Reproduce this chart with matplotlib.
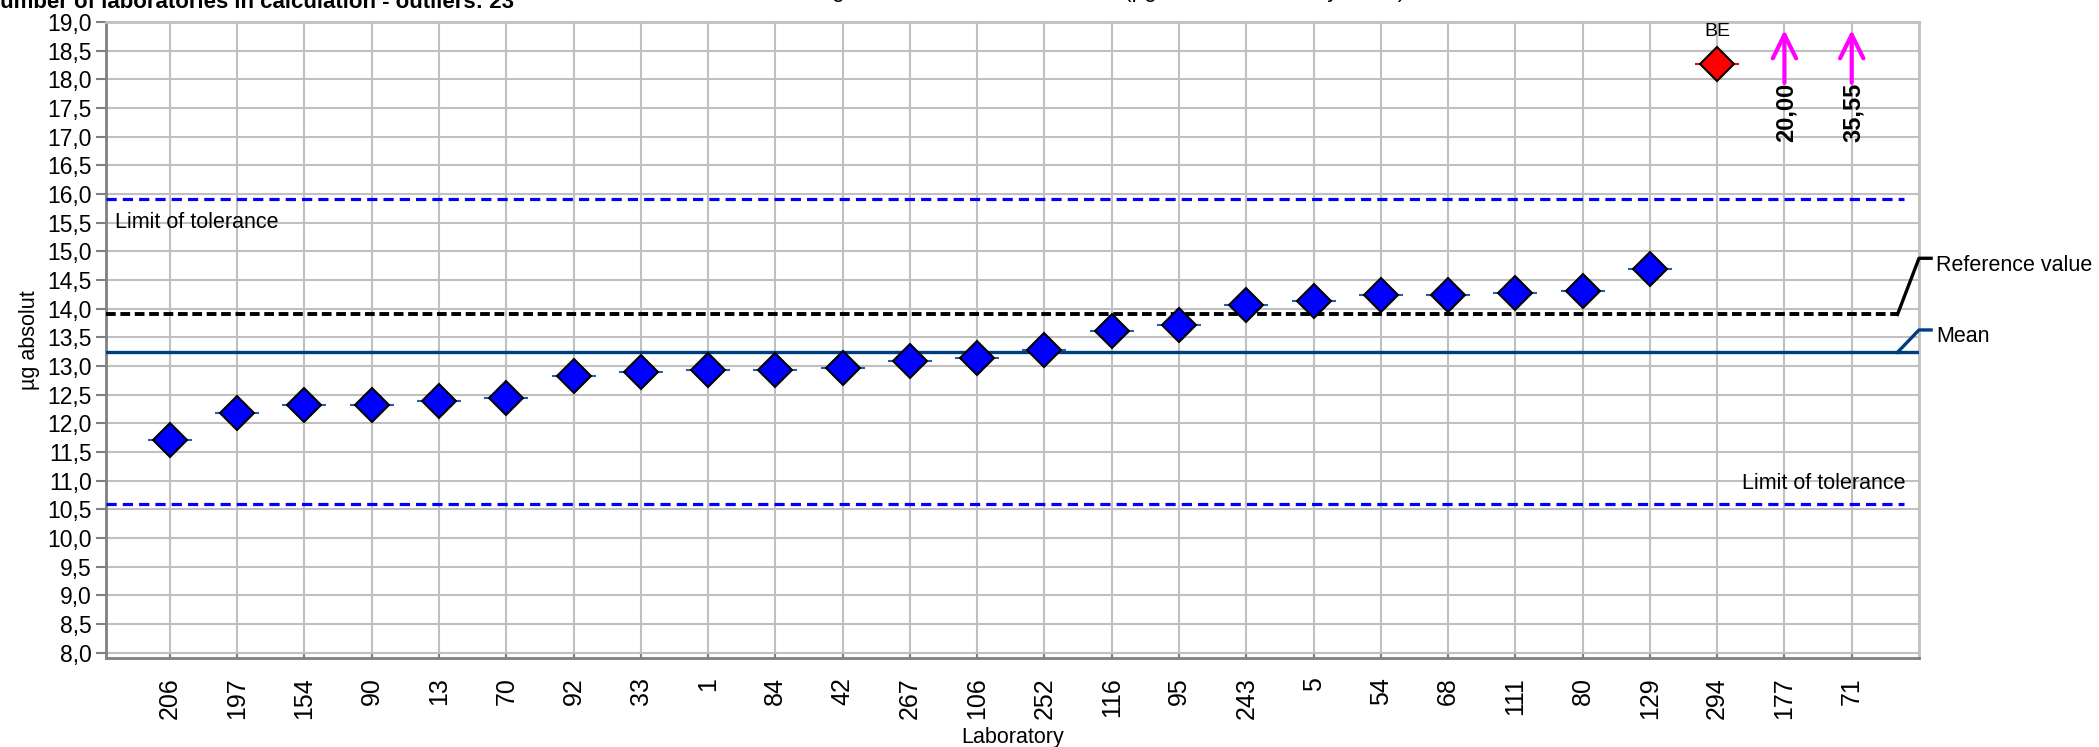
import matplotlib
matplotlib.use('Agg')
import matplotlib.pyplot as plt

plt.rcParams['font.family'] = ['Liberation Sans', 'DejaVu Sans']

# laboratories used in the calculation, sorted by result
labs = ['206', '197', '154', '90', '13', '70', '92', '33', '1', '84', '42', '267',
        '106', '252', '116', '95', '243', '5', '54', '68', '111', '80', '129']
values = [11.71, 12.19, 12.33, 12.33, 12.40, 12.44, 12.82, 12.89, 12.94, 12.94, 12.96, 13.09,
          13.14, 13.28, 13.62, 13.72, 14.07, 14.14, 14.24, 14.24, 14.28, 14.31, 14.69]

# outliers (not in calculation)
outlier_labs = ['294', '177', '71']
outlier_values = [18.27, 20.00, 35.55]
outlier_tags = ['BE', '', '']

ref_value = 13.90
mean_value = 13.24
tol_low = 10.59
tol_high = 15.91

ymin, ymax = 7.91, 19.0
W, H = 2099, 747

fig = plt.figure(figsize=(W / 100, H / 100), dpi=100)
ax = fig.add_axes([106 / W, 1 - 658 / H, 1813 / W, 636 / H])

all_labs = labs + outlier_labs
n = len(all_labs)
xs = list(range(n))
x_end = n - 0.22

# grid
ax.set_axisbelow(True)
ax.grid(True, color='#c0c0c0', linewidth=1.5)
ax.set_xlim(-0.95, n)
ax.set_ylim(ymin, ymax)
yt = [8.0 + 0.5 * i for i in range(23)]
ax.set_yticks(yt)
ax.set_yticklabels([('%.1f' % v).replace('.', ',') for v in yt], fontsize=16.5)
ax.set_xticks(xs)
ax.set_xticklabels(all_labs, rotation=90, fontsize=18)
ax.tick_params(axis='y', direction='out', length=7, width=1.5, color='#808080', pad=3)
ax.tick_params(axis='x', direction='in', length=4, width=1.5, color='#808080', pad=14)
for s in ['left', 'bottom']:
    ax.spines[s].set_color('#808080')
    ax.spines[s].set_linewidth(2)
for s in ['top', 'right']:
    ax.spines[s].set_color('#c0c0c0')
    ax.spines[s].set_linewidth(2)

# tolerance limits, reference value and mean
ax.plot([-0.95, x_end], [tol_high, tol_high], color='#0000ff', lw=2.3, dashes=(3.2, 1.9), zorder=3)
ax.plot([-0.95, x_end], [tol_low, tol_low], color='#0000ff', lw=2.3, dashes=(3.2, 1.9), zorder=3)
ax.plot([-0.95, x_end - 0.1], [ref_value, ref_value], color='black', lw=2.8, dashes=(2.5, 1.2), zorder=3)
ax.plot([-0.95, n], [mean_value, mean_value], color='#003f7f', lw=2.4, zorder=3)

ax.text(-0.82, tol_high - 0.41, 'Limit of tolerance', fontsize=15.5, va='center', ha='left')
ax.text(x_end + 0.02, tol_low + 0.37, 'Limit of tolerance', fontsize=15.5, va='center', ha='right')

# leader lines to the labels on the right
ax.plot([x_end - 0.1, n, n + 0.18], [ref_value, ref_value + 0.98, ref_value + 0.98],
        color='black', lw=2.4, clip_on=False, zorder=4)
ax.text(n + 0.26, ref_value + 0.86, 'Reference value', fontsize=15.5, va='center', ha='left')
ax.plot([x_end - 0.1, n, n + 0.18], [mean_value, mean_value + 0.39, mean_value + 0.39],
        color='#003f7f', lw=2.4, clip_on=False, zorder=4)
ax.text(n + 0.26, mean_value + 0.27, 'Mean', fontsize=15.5, va='center', ha='left')

# results
ax.plot(xs[:len(labs)], values, linestyle='none', marker='_', ms=31, mew=1.5,
        color='#2a5caa', zorder=5)
ax.plot(xs[:len(labs)], values, linestyle='none', marker='D', ms=17, mew=1.5,
        markerfacecolor='#0000ff', markeredgecolor='black', zorder=6)

# outliers: red diamond if on scale, arrow with value otherwise
for i, (v, tag) in enumerate(zip(outlier_values, outlier_tags)):
    xi = len(labs) + i
    if v <= ymax:
        ax.plot([xi], [v], linestyle='none', marker='_', ms=31, mew=1.5, color='red', zorder=5)
        ax.plot([xi], [v], linestyle='none', marker='D', ms=17, mew=1.5,
                markerfacecolor='#ff0000', markeredgecolor='black', zorder=6)
        ax.text(xi, v + 0.56, tag, fontsize=14, ha='center', va='center')
    else:
        ax.annotate('', xy=(xi, 18.86), xytext=(xi, 17.94),
                    arrowprops=dict(arrowstyle='->,head_length=0.85,head_width=0.42',
                                    color='#ff00ff', lw=3, mutation_scale=20,
                                    shrinkA=0, shrinkB=0), zorder=6)
        ax.text(xi + 0.02, 17.94, ('%.2f' % v).replace('.', ','), rotation=90, fontsize=17,
                fontweight='bold', ha='center', va='top')

ax.set_xlabel('Laboratory', fontsize=15.5)
ax.xaxis.set_label_coords(0.5, -(738 - 658) / 636)
ax.xaxis.label.set_va('center')
ax.set_ylabel('µg absolut', fontsize=15.5)
ax.yaxis.set_label_coords(-(106 - 30) / 1813, 0.5)
ax.yaxis.label.set_va('center')

# header lines at the top edge
fig.text(-16 / W, 1 - 8 / H, 'Number of laboratories in calculation - outliers: 23',
         fontsize=16, fontweight='bold', va='baseline', ha='left')
fig.text(800 / W, 1 + 3 / H, 'Single results of the laboratories (µg absolut, sorted by value)',
         fontsize=16, va='baseline', ha='left')

fig.savefig('out.png', dpi=100)
